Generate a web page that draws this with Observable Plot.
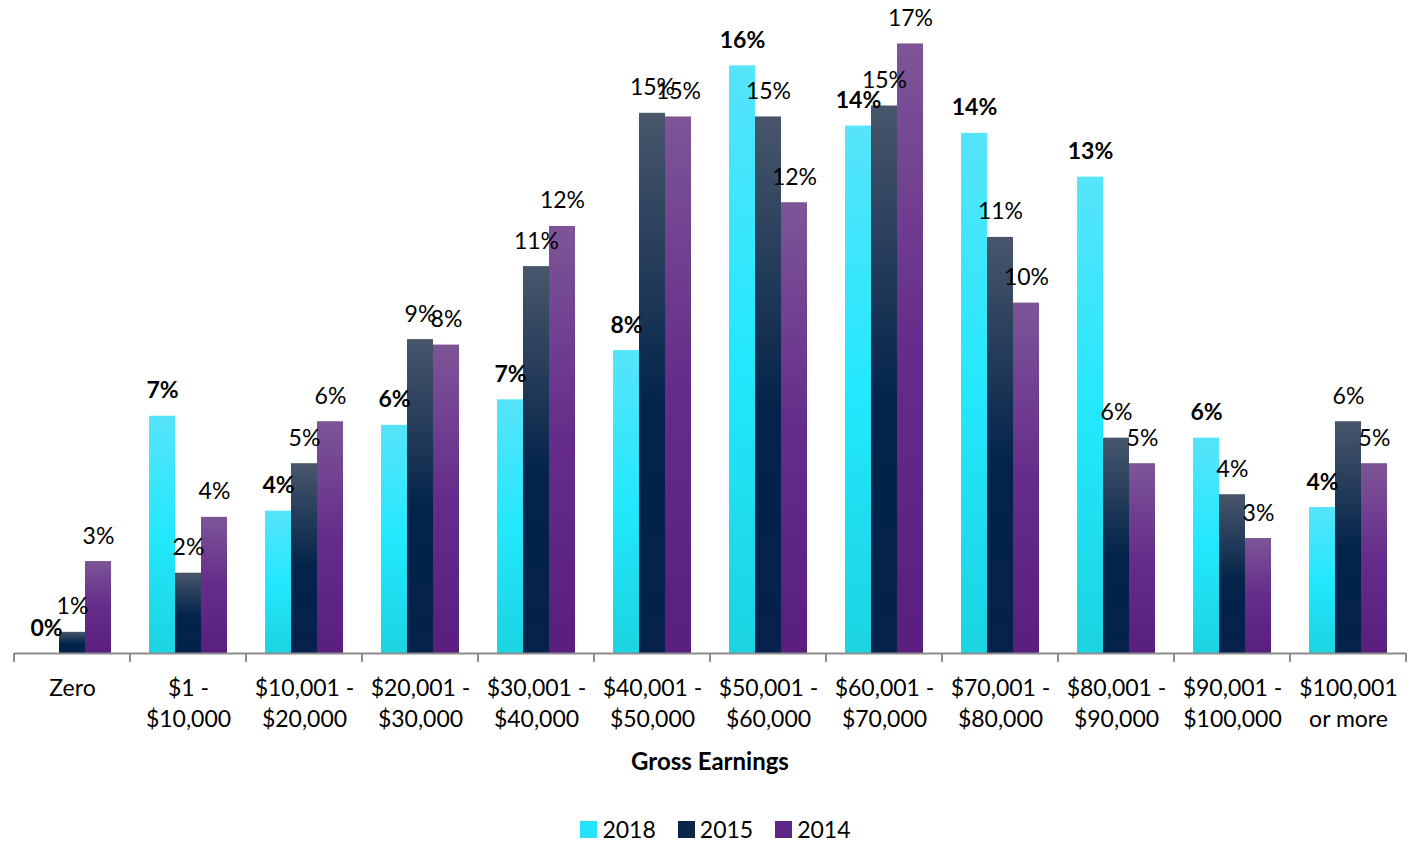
<!DOCTYPE html>
<html>
<head>
<meta charset="utf-8">
<script src="https://cdn.jsdelivr.net/npm/d3@7"></script>
<script src="https://cdn.jsdelivr.net/npm/@observablehq/plot@0.6"></script>
<style>
  body { margin: 0; background: #fff; font-family: Lato, "Open Sans", sans-serif; }
  #chart svg { display: block; }
  #xlabel { text-align: center; font-weight: bold; font-size: 24px; line-height: 26px; margin-top: 8px; padding-left: 5px; color: #000; }
  #legend { display: flex; justify-content: center; align-items: center; margin-top: 41px; padding-left: 16px; line-height: 28px; font-size: 23px; color: #000; }
  #legend .item { display: flex; align-items: center; margin: 0 11px; }
  #legend .sw { width: 17px; height: 17px; margin-right: 5px; }
</style>
</head>
<body>
<div id="chart"></div>
<div id="xlabel">Gross Earnings</div>
<div id="legend"></div>
<script>
const categories = ["Zero", "$1 -\n$10,000", "$10,001 -\n$20,000", "$20,001 -\n$30,000", "$30,001 -\n$40,000", "$40,001 -\n$50,000", "$50,001 -\n$60,000", "$60,001 -\n$70,000", "$70,001 -\n$80,000", "$80,001 -\n$90,000", "$90,001 -\n$100,000", "$100,001\nor more"];
const series = ["2018", "2015", "2014"];
const values2018 = [0.0, 6.5, 3.9, 6.25, 6.95, 8.3, 16.1, 14.45, 14.25, 13.05, 5.9, 4.0];
const values2015 = [0.58, 2.2, 5.2, 8.6, 10.6, 14.8, 14.7, 15.0, 11.4, 5.9, 4.35, 6.35];
const values2014 = [2.52, 3.73, 6.35, 8.45, 11.7, 14.7, 12.35, 16.7, 9.6, 5.2, 3.15, 5.2];
const seriesValues = {"2018": values2018, "2015": values2015, "2014": values2014};
const gradients = {
  "2018": [["0%", "#56e4fb"], ["50%", "#23e8fd"], ["100%", "#1bd3e1"]],
  "2015": [["0%", "#48566b"], ["55%", "#02234a"], ["100%", "#05214c"]],
  "2014": [["0%", "#7d5597"], ["50%", "#652c8a"], ["100%", "#5a1f7e"]]
};
const swatch = {"2018": "#25e3fb", "2015": "#0b2649", "2014": "#5e2686"};

const data = [];
categories.forEach((c, i) => series.forEach(s => data.push({cat: c, series: s, value: seriesValues[s][i]})));

const gid = s => "grad" + s;
function defs() {
  const d = d3.create("svg:defs");
  for (const s of series) {
    const g = d.append("linearGradient").attr("id", gid(s)).attr("x1", 0).attr("y1", 0).attr("x2", 0).attr("y2", 1);
    for (const [o, c] of gradients[s]) g.append("stop").attr("offset", o).attr("stop-color", c);
  }
  return d.node();
}

const plot = Plot.plot({
  width: 1415,
  height: 740,
  marginTop: 32.5,
  marginBottom: 87,
  marginLeft: 13,
  marginRight: 8,
  style: {fontFamily: "Lato, 'Open Sans', sans-serif", fontSize: "23px", color: "#000", background: "#fff"},
  fx: {domain: categories, padding: 0, axis: null, label: null},
  x: {domain: series, paddingInner: 0, paddingOuter: 0.73, axis: null},
  y: {domain: [0, 17], axis: null},
  marks: [
    defs,
    Plot.barY(data, {fx: "cat", x: "series", y: "value", fill: d => `url(#${gid(d.series)})`}),
    Plot.ruleY([0], {stroke: "#8c8c8c", strokeWidth: 2}),
    Plot.text(data.filter(d => d.series !== "2018"), {fx: "cat", x: "series", y: "value", text: d => Math.round(d.value) + "%", lineAnchor: "bottom", dy: -18, fontSize: 23, fill: "#000"}),
    Plot.text(data.filter(d => d.series === "2018"), {fx: "cat", x: "series", y: "value", text: d => Math.round(d.value) + "%", lineAnchor: "bottom", dy: -18, fontSize: 23, fontWeight: "bold", fill: "#000"}),
    Plot.text(categories, {fx: d => d, text: d => d, frameAnchor: "bottom", lineAnchor: "top", dy: 21, fontSize: 23, lineHeight: 1.33, fill: "#000"})
  ]
});

// category boundary tick marks, positioned with the plot's own scales
const fx = plot.scale("fx");
const y = plot.scale("y");
const y0 = y.apply(0);
const bounds = categories.map(c => fx.apply(c));
bounds.push(fx.apply(categories[categories.length - 1]) + fx.bandwidth);
const gt = d3.select(plot).append("g").attr("aria-label", "category ticks");
for (const bx of bounds) {
  gt.append("line").attr("x1", bx).attr("x2", bx).attr("y1", y0).attr("y2", y0 + 9)
    .attr("stroke", "#8c8c8c").attr("stroke-width", 2);
}
document.getElementById("chart").appendChild(plot);

const legend = document.getElementById("legend");
for (const s of series) {
  const it = document.createElement("div"); it.className = "item";
  const sw = document.createElement("div"); sw.className = "sw"; sw.style.background = swatch[s];
  const t = document.createElement("span"); t.textContent = s;
  it.appendChild(sw); it.appendChild(t); legend.appendChild(it);
}
</script>
</body>
</html>
